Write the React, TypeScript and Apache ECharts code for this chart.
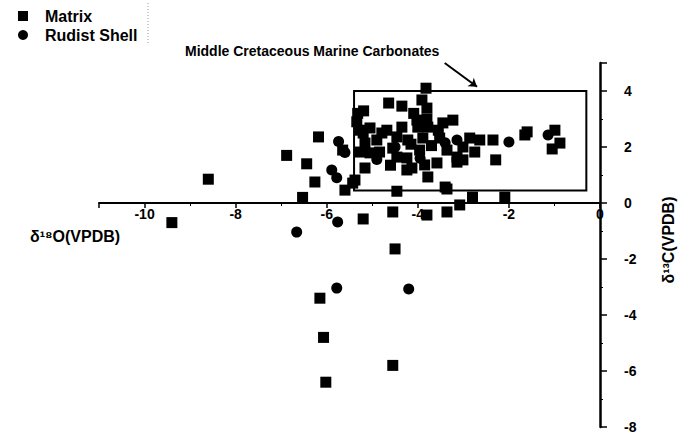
import React, { useEffect, useRef } from "react";
import * as echarts from "echarts";

// δ18O / δ13C pairs (VPDB, ‰)
const matrixPoints: [number, number][] = [
  [-9.4, -0.7], [-8.6, 0.85], [-6.88, 1.7], [-6.44, 1.4], [-6.26, 0.75],
  [-6.53, 0.2], [-6.18, 2.36], [-5.65, 1.89], [-5.6, 0.46], [-5.43, 0.71],
  [-5.38, 0.82], [-5.2, -0.57], [-4.55, -0.32], [-3.8, -0.43], [-3.36, -0.32],
  [-4.5, -1.64], [-6.15, -3.4], [-6.07, -4.8], [-4.55, -5.8], [-6.02, -6.4],
  [-4.46, 0.42], [-3.36, 0.5], [-2.8, 0.21], [-3.08, -0.07], [-2.09, 0.21],
  [-3.4, 0.57], [-3.82, 4.1], [-3.91, 3.68], [-3.8, 3.39], [-4.64, 3.57],
  [-4.35, 3.46], [-4.09, 3.2], [-3.8, 3.0], [-5.19, 3.29], [-5.34, 2.9],
  [-3.23, 2.96], [-3.45, 2.86], [-5.05, 2.68], [-5.27, 2.6], [-4.68, 2.6],
  [-4.35, 2.71], [-4.0, 2.71], [-3.78, 2.71], [-4.46, 2.36], [-4.9, 2.25],
  [-5.16, 2.14], [-4.22, 2.25], [-3.89, 2.32], [-3.52, 2.32], [-3.01, 2.0],
  [-3.36, 1.89], [-3.96, 1.89], [-4.55, 1.96], [-4.84, 1.82], [-5.27, 1.82],
  [-4.24, 1.61], [-3.58, 1.43], [-3.85, 1.36], [-4.13, 1.25], [-4.24, 1.18],
  [-3.14, 1.46], [-5.16, 1.25], [-3.78, 0.93], [-4.79, 2.5], [-5.2, 2.5],
  [-5.05, 1.79], [-4.02, 2.96], [-2.86, 2.32], [-2.64, 2.25], [-2.35, 2.25],
  [-2.75, 1.82], [-3.01, 1.54], [-2.29, 1.54], [-1.65, 2.43], [-1.6, 2.54],
  [-1.05, 1.93], [-0.88, 2.14], [-0.99, 2.6], [-3.14, 1.64], [-4.46, 1.64],
  [-3.7, 2.05], [-4.6, 1.35], [-5.32, 3.2], [-4.15, 2.1], [-3.55, 2.6],
];

const rudistPoints: [number, number][] = [
  [-6.66, -1.04], [-5.76, -0.68], [-5.78, -3.04], [-4.2, -3.07], [-5.74, 2.2],
  [-5.6, 1.8], [-5.89, 1.18], [-5.78, 0.9], [-2.0, 2.18], [-1.14, 2.43],
  [-3.14, 2.25], [-4.5, 2.0], [-3.95, 1.6], [-4.9, 1.55], [-3.4, 2.15],
];

// Field of middle Cretaceous marine carbonates (corner pairs)
const marineBox: [number, number][] = [[-5.4, 4.0], [-0.3, 0.45]];
// Pointer from the field caption to the box
const captionArrow: [number, number][] = [[-3.41, 5.0], [-2.7, 4.15]];

const xRange: [number, number] = [-11, 0];
const yRange: [number, number] = [-8, 5];

const seriesNames = ["Matrix", "Rudist Shell"];
const boxCaption = "Middle Cretaceous Marine Carbonates";
const xName = "δ¹⁸O(VPDB)";
const yName = "δ¹³C(VPDB)";

const FONT = "'Liberation Sans', Arial, sans-serif";

// plot area in pixels
const GRID = { left: 99, right: 86, top: 63, bottom: 18 };
const CHART_H = 445;

export default function App() {
  const ref = useRef<HTMLDivElement>(null);

  useEffect(() => {
    if (!ref.current) return;
    const chart = echarts.init(ref.current, undefined, { renderer: "svg" });

    // the δ18O axis crosses at δ13C = 0: shift it up from the plot bottom
    const plotH = CHART_H - GRID.top - GRID.bottom;
    const zeroFromBottom = (plotH * (0 - yRange[0])) / (yRange[1] - yRange[0]);

    const axisLabelStyle = {
      fontFamily: FONT,
      fontWeight: "bold" as const,
      fontSize: 14,
      color: "#000",
    };

    chart.setOption({
      animation: false,
      backgroundColor: "#fff",
      grid: { ...GRID, containLabel: false },
      legend: {
        orient: "vertical",
        left: 13,
        top: 3,
        itemWidth: 10,
        itemHeight: 10,
        itemGap: 3,
        selectedMode: false,
        textStyle: { ...axisLabelStyle, fontSize: 16, padding: [0, 0, 0, 12] },
        data: [
          { name: seriesNames[0], icon: "rect" },
          { name: seriesNames[1], icon: "circle" },
        ],
      },
      xAxis: {
        type: "value",
        min: xRange[0],
        max: xRange[1],
        splitNumber: 5,
        offset: -zeroFromBottom,
        axisLine: { onZero: false, lineStyle: { color: "#000", width: 2 } },
        axisTick: { show: true, length: 5, lineStyle: { color: "#000", width: 1.5 } },
        minorTick: { show: true, splitNumber: 2, length: 3, lineStyle: { color: "#000" } },
        axisLabel: { ...axisLabelStyle, margin: 4, showMinLabel: false },
        splitLine: { show: false },
      },
      yAxis: {
        type: "value",
        position: "right",
        min: yRange[0],
        max: yRange[1],
        interval: 2,
        axisLine: { onZero: false, lineStyle: { color: "#000", width: 2.5 } },
        axisTick: { show: true, length: 7, lineStyle: { color: "#000", width: 1.5 } },
        minorTick: { show: true, splitNumber: 2, length: 3, lineStyle: { color: "#000" } },
        axisLabel: { ...axisLabelStyle, margin: 24, showMaxLabel: false },
        splitLine: { show: false },
      },
      series: [
        {
          name: seriesNames[0],
          type: "scatter",
          symbol: "rect",
          symbolSize: 11,
          itemStyle: { color: "#000", opacity: 1 },
          data: matrixPoints,
          markArea: {
            silent: true,
            itemStyle: { color: "rgba(0,0,0,0)", borderColor: "#000", borderWidth: 2 },
            label: { show: false },
            data: [[{ coord: marineBox[0] }, { coord: marineBox[1] }]],
          },
          markLine: {
            silent: true,
            symbol: ["none", "arrow"],
            symbolSize: 8,
            label: { show: false },
            lineStyle: { color: "#000", width: 2, type: "solid" },
            data: [[{ coord: captionArrow[0] }, { coord: captionArrow[1] }]],
          },
        },
        {
          name: seriesNames[1],
          type: "scatter",
          symbol: "circle",
          symbolSize: 11,
          itemStyle: { color: "#000", opacity: 1 },
          data: rudistPoints,
        },
      ],
      graphic: [
        {
          type: "line",
          shape: { x1: 148, y1: 3, x2: 148, y2: 45 },
          style: { stroke: "#999", lineWidth: 1, lineDash: [1, 2] },
        },
        {
          type: "text",
          left: 185,
          top: 44,
          style: {
            text: boxCaption,
            font: `bold 14px ${FONT}`,
            fill: "#000",
          },
        },
        {
          type: "text",
          x: 30,
          y: 236,
          style: {
            text: xName,
            font: `bold 16px ${FONT}`,
            fill: "#000",
            verticalAlign: "middle",
            align: "left",
          },
        },
        {
          type: "text",
          x: 668,
          y: 240,
          rotation: Math.PI / 2,
          style: {
            text: yName,
            font: `bold 16px ${FONT}`,
            fill: "#000",
            verticalAlign: "middle",
            align: "center",
          },
        },
      ],
    });

    return () => chart.dispose();
  }, []);

  return (
    <div
      ref={ref}
      style={{ position: "absolute", left: 0, top: 0, width: 686, height: 445 }}
    />
  );
}
